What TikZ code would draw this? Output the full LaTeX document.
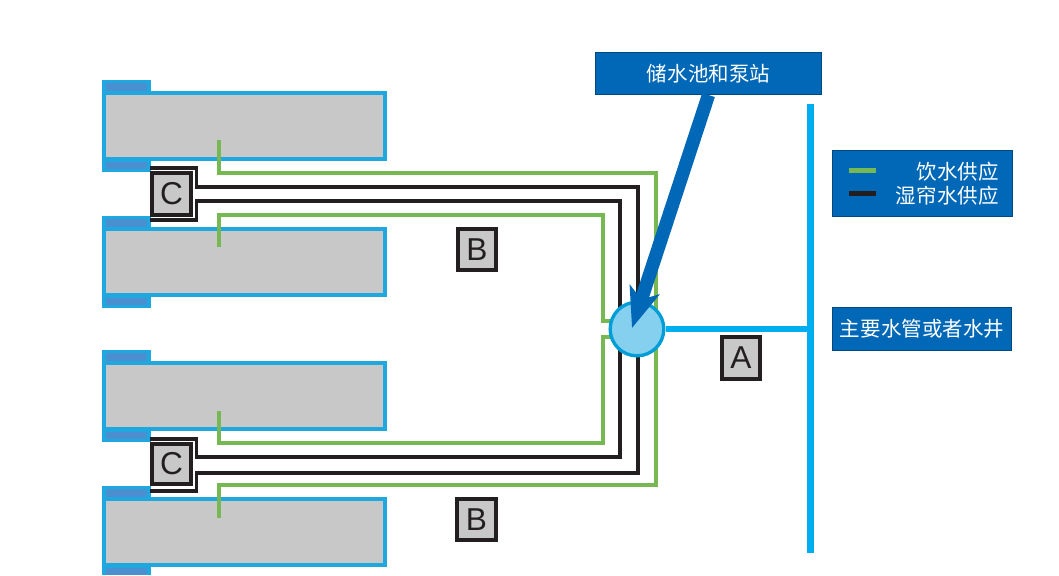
\documentclass[tikz,border=0pt]{standalone}
\usepackage{fontspec}
\setmainfont{Liberation Sans}
\newfontfamily\cjk{Noto Sans CJK SC}
\usetikzlibrary{arrows.meta}
\definecolor{skyline}{HTML}{00AEEF}
\definecolor{shedline}{HTML}{1FA8DF}
\definecolor{tabfill}{HTML}{4A8FD0}
\definecolor{shedgray}{HTML}{C8C8C8}
\definecolor{pipegreen}{HTML}{76B852}
\definecolor{pipeblack}{HTML}{231F20}
\definecolor{bluebox}{HTML}{0068B7}
\definecolor{pumpfill}{HTML}{85D0EF}
\tikzset{
 shed/.style={draw=shedline,fill=shedgray,line width=1.05mm},
 tabout/.style={fill=shedline},
 tabin/.style={fill=tabfill},
 greenpipe/.style={draw=pipegreen,line width=1.1mm},
 blackpipe/.style={draw=pipeblack,line width=1.1mm},
 letterbox/.style={draw=pipeblack,fill=shedgray,line width=1.1mm,font=\fontsize{27}{27}\selectfont,text=pipeblack,inner sep=0pt},
 infobox/.style={draw=bluebox!70!black,fill=bluebox,line width=.3mm,text=white,font=\cjk\fontsize{17.5}{20}\selectfont,inner sep=0pt},
}
\begin{document}
\begin{tikzpicture}[x=.03cm,y=-.03cm]
 \useasboundingbox (0,0) rectangle (1059,575);
 %鸡舍
 \fill[tabout] (102,80) rectangle (151,172);
 \fill[tabin] (106,83) rectangle (147,92);
 \fill[tabin] (106,162) rectangle (147,169);
 \draw[shed] (104,93) rectangle (385,159);
 \fill[tabout] (102,216) rectangle (151,308);
 \fill[tabin] (106,219) rectangle (147,228);
 \fill[tabin] (106,298) rectangle (147,305);
 \draw[shed] (104,229) rectangle (385,295);
 \fill[tabout] (102,350) rectangle (151,442);
 \fill[tabin] (106,353) rectangle (147,362);
 \fill[tabin] (106,432) rectangle (147,439);
 \draw[shed] (104,363) rectangle (385,429);
 \fill[tabout] (102,486) rectangle (151,575);
 \fill[tabin] (106,489) rectangle (147,498);
 \fill[tabin] (106,568) rectangle (147,575);
 \draw[shed] (104,499) rectangle (385,565);
 %饮水
 \coordinate (GA1) at (219,140);
 \coordinate (GA2) at (219,173);
 \coordinate (GA3) at (656,173);
 \coordinate (GA4) at (656,329);
 \coordinate (GB1) at (219,247);
 \coordinate (GB2) at (219,215);
 \coordinate (GB3) at (603,215);
 \coordinate (GB4) at (603,321);
 \coordinate (GB5) at (612,321);
 \coordinate (GC1) at (219,411);
 \coordinate (GC2) at (219,443);
 \coordinate (GC3) at (603,443);
 \coordinate (GC4) at (603,337);
 \coordinate (GC5) at (612,337);
 \coordinate (GD1) at (219,518);
 \coordinate (GD2) at (219,485);
 \coordinate (GD3) at (656,485);
 \coordinate (GD4) at (656,329);
 \draw[greenpipe] (GA1)--(GA2)--(GA3)--(GA4);
 \draw[greenpipe] (GB1)--(GB2)--(GB3)--(GB4)--(GB5);
 \draw[greenpipe] (GC1)--(GC2)--(GC3)--(GC4)--(GC5);
 \draw[greenpipe] (GD1)--(GD2)--(GD3)--(GD4);
 %湿帘水
 \coordinate (KA1) at (150,168);
 \coordinate (KA2) at (196.5,168);
 \coordinate (KA3) at (196.5,187);
 \coordinate (KA4) at (638,187);
 \coordinate (KA5) at (638,329);
 \coordinate (KB1) at (150,220);
 \coordinate (KB2) at (196.5,220);
 \coordinate (KB3) at (196.5,201);
 \coordinate (KB4) at (620,201);
 \coordinate (KB5) at (620,329);
 \coordinate (KC1) at (150,439);
 \coordinate (KC2) at (196.5,439);
 \coordinate (KC3) at (196.5,457);
 \coordinate (KC4) at (620,457);
 \coordinate (KC5) at (620,329);
 \coordinate (KD1) at (150,491);
 \coordinate (KD2) at (196.5,491);
 \coordinate (KD3) at (196.5,473);
 \coordinate (KD4) at (638,473);
 \coordinate (KD5) at (638,329);
 \draw[blackpipe] (KA1)--(KA2)--(KA3)--(KA4)--(KA5);
 \draw[blackpipe] (KB1)--(KB2)--(KB3)--(KB4)--(KB5);
 \draw[blackpipe] (KC1)--(KC2)--(KC3)--(KC4)--(KC5);
 \draw[blackpipe] (KD1)--(KD2)--(KD3)--(KD4)--(KD5);
 %水泵
 \node[circle,draw=skyline!90!black,fill=pumpfill,line width=1mm,minimum size=1.61cm,inner sep=0pt] (pump) at (637,329) {};
 %主水管
 \coordinate (MT) at (810,104);
 \coordinate (MB) at (810,553);
 \coordinate (MC) at (810,329);
 \draw[draw=skyline,line width=2.1mm] (MT)--(MB);
 \draw[draw=skyline,line width=1.8mm] (pump)--(MC);
 %字母
 \node[letterbox,minimum width=1.18cm,minimum height=1.27cm] (C1) at (171.5,194) {C};
 \node[letterbox,minimum width=1.18cm,minimum height=1.21cm] (C2) at (171.5,464) {C};
 \node[letterbox,minimum width=1.15cm,minimum height=1.24cm] (B1) at (477,249.5) {B};
 \node[letterbox,minimum width=1.18cm,minimum height=1.24cm] (B2) at (476.5,519.5) {B};
 \node[letterbox,minimum width=1.15cm,minimum height=1.27cm] (A) at (741,358) {A};
 %说明
 \node[infobox,minimum width=6.78cm,minimum height=1.26cm] (station) at (708.5,73.5) {储水池和泵站};
 \coordinate (tip) at (632,328);
 \draw[-{Stealth[length=1.2cm,width=.92cm,inset=.3cm]},draw=bluebox,fill=bluebox,line width=4mm] (station.south)--(tip);
 \node[infobox,minimum width=5.4cm,minimum height=1.98cm] (legend) at (922.5,183.5) {};
 \node[infobox,draw=none,fill=none,anchor=east] (drink) at (999,172) {饮水供应};
 \node[infobox,draw=none,fill=none,anchor=east] (pad) at (999,195.5) {湿帘水供应};
 \coordinate (L1a) at (849,170.5);
 \coordinate (L1b) at (876,170.5);
 \coordinate (L2a) at (849,193.5);
 \coordinate (L2b) at (876,193.5);
 \draw[draw=pipegreen,line width=1.6mm] (L1a)--(L1b);
 \draw[draw=pipeblack,line width=1.6mm] (L2a)--(L2b);
 \node[infobox,minimum width=5.37cm,minimum height=1.29cm] (main) at (922,329) {主要水管或者水井};
\end{tikzpicture}
\end{document}
